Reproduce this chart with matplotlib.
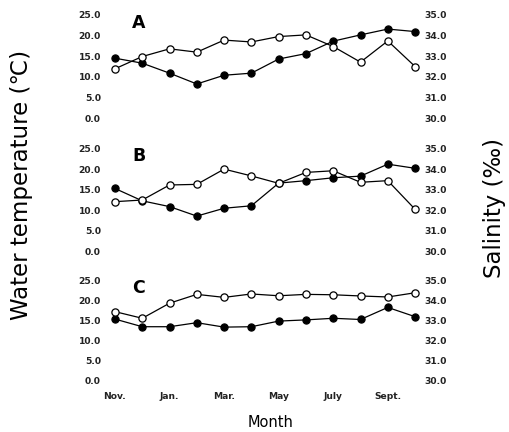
import matplotlib
matplotlib.use("Agg")
import matplotlib.pyplot as plt
import numpy as np

months = ["Nov.", "Dec.", "Jan.", "Feb.", "Mar.", "Apr.", "May", "June",
          "July", "Aug.", "Sept.", "Oct."]
month_labels = ["Nov.", "Jan.", "Mar.", "May", "July", "Sept."]
panels = ["A", "B", "C"]

# water temperature (filled circles, left axis)
temp_a = [14.5, 13.3, 10.9, 8.3, 10.4, 10.9, 14.3, 15.6, 18.6, 20.1, 21.5, 20.9]
temp_b = [15.3, 12.3, 10.9, 8.6, 10.5, 11.1, 16.6, 17.2, 17.9, 18.3, 21.2, 20.2]
temp_c = [15.4, 13.5, 13.5, 14.5, 13.4, 13.5, 14.9, 15.2, 15.6, 15.3, 18.3, 16.0]

# salinity (open circles, right axis)
sal_a = [32.39, 32.98, 33.35, 33.19, 33.77, 33.68, 33.94, 34.02, 33.46, 32.71, 33.73, 32.50]
sal_b = [32.42, 32.50, 33.23, 33.26, 34.00, 33.67, 33.31, 33.84, 33.92, 33.36, 33.44, 32.05]
sal_c = [33.45, 33.12, 33.87, 34.31, 34.16, 34.33, 34.24, 34.31, 34.29, 34.23, 34.18, 34.39]

temps = [temp_a, temp_b, temp_c]
sals = [sal_a, sal_b, sal_c]

temp_ticks = [0, 5, 10, 15, 20, 25]
sal_ticks = [30, 31, 32, 33, 34, 35]

fig = plt.figure(figsize=(5.1, 4.32), dpi=100)

# axes boxes in figure fractions (left, bottom, width, height)
boxes = [(0.2078, 0.7257, 0.6157, 0.2407),
         (0.2078, 0.4178, 0.6157, 0.2384),
         (0.2078, 0.1181, 0.6157, 0.2326)]

x = np.arange(len(months))
tick_font = dict(fontsize=6.6, fontweight="bold", color="#222222")

for i, box in enumerate(boxes):
    ax = fig.add_axes(box)
    ax2 = ax.twinx()
    ax.plot(x, temps[i], color="black", lw=0.9, marker="o", ms=5.2,
            mfc="black", mec="black", mew=0.8, zorder=3)
    ax2.plot(x, sals[i], color="black", lw=0.9, marker="o", ms=5.2,
             mfc="white", mec="black", mew=0.9, zorder=3)

    ax.set_xlim(-0.33, 11.18)
    ax.set_ylim(0, 25)
    ax2.set_ylim(30, 35)

    ax.set_yticks(temp_ticks)
    ax.set_yticklabels([f"{t:.1f}" for t in temp_ticks], **tick_font)
    ax2.set_yticks(sal_ticks)
    ax2.set_yticklabels([f"{s:.1f}" for s in sal_ticks], **tick_font)

    if i == 2:
        ax.set_xticks(x[::2])
        ax.set_xticklabels(month_labels, **tick_font)
    else:
        ax.set_xticks([])

    for a in (ax, ax2):
        for s in a.spines.values():
            s.set_visible(False)
    ax.tick_params(axis="y", length=0, pad=3.6)
    ax2.tick_params(axis="y", length=0, pad=2.9)
    ax.tick_params(axis="x", length=0, pad=8)

    ax.text(0.083, 0.92 if i == 0 else 0.93, panels[i], transform=ax.transAxes,
            fontsize=12.5, fontweight="bold", ha="left", va="center")

fig.text(0.043, 0.572, "Water temperature (\u2103)", rotation=90,
         fontsize=16.5, ha="center", va="center")
fig.text(0.969, 0.519, "Salinity (\u2030)", rotation=90,
         fontsize=16.5, ha="center", va="center")
fig.text(0.531, 0.023, "Month", fontsize=10.5, ha="center", va="center")

fig.savefig("out.png", dpi=100)
